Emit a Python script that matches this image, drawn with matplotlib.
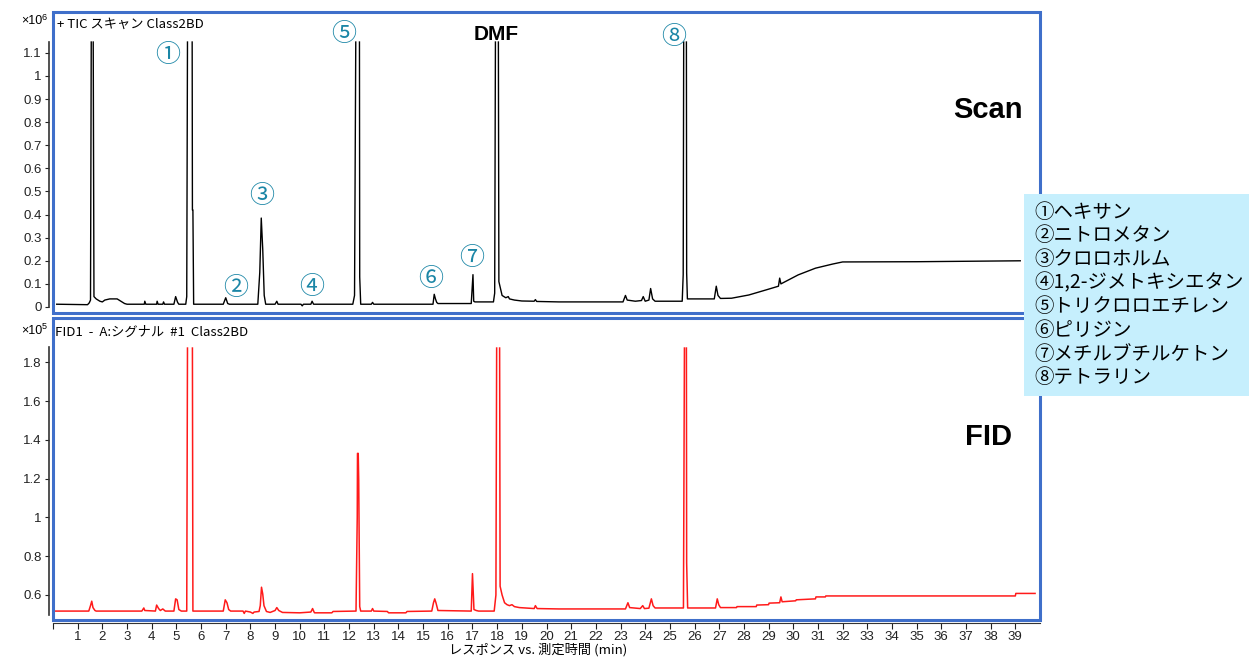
import numpy as np
import matplotlib.pyplot as plt
from matplotlib.patches import Rectangle
from matplotlib.ticker import FuncFormatter

W, H = 1249, 657
BLUE = '#3f6fca'
TEAL = '#1b86a6'
JP = ['Noto Sans CJK JP', 'DejaVu Sans']

# Scan (TIC) trace, x10^6 counts vs time (min); None = off scale (line break)
scan_points = [
    (0.15, 0.012), (1.40, 0.010), (1.47, 0.018), (1.52, 0.030), (1.55, 1.147), (None, None),
    (1.63, 1.147), (1.66, 0.045), (1.75, 0.035), (1.90, 0.025), (2.00, 0.022), (2.10, 0.030),
    (2.30, 0.035), (2.60, 0.035), (2.75, 0.025), (2.90, 0.015), (3.00, 0.012), (3.70, 0.012),
    (3.72, 0.025), (3.76, 0.012), (4.20, 0.012), (4.22, 0.025), (4.26, 0.012), (4.45, 0.012),
    (4.48, 0.022), (4.52, 0.012), (4.90, 0.012), (4.97, 0.045), (5.05, 0.020), (5.10, 0.012),
    (5.38, 0.012), (5.42, 0.045), (5.45, 1.147), (None, None), (5.64, 1.147), (5.65, 0.420),
    (5.67, 0.420), (5.70, 0.012), (6.90, 0.012), (7.00, 0.040), (7.08, 0.015), (7.15, 0.012),
    (8.30, 0.012), (8.38, 0.150), (8.44, 0.385), (8.50, 0.250), (8.56, 0.050), (8.62, 0.012),
    (9.00, 0.012), (9.07, 0.025), (9.12, 0.012), (10.05, 0.012), (10.10, 0.005), (10.15, 0.012),
    (10.45, 0.012), (10.50, 0.025), (10.56, 0.012), (12.15, 0.012), (12.22, 0.050), (12.27, 1.147),
    (None, None), (12.42, 1.147), (12.43, 0.130), (12.47, 0.012), (12.90, 0.012), (12.95, 0.020),
    (13.00, 0.012), (15.40, 0.012), (15.45, 0.055), (15.50, 0.035), (15.55, 0.020), (15.60, 0.015),
    (16.95, 0.015), (17.02, 0.140), (17.05, 0.025), (17.10, 0.022), (17.85, 0.022), (17.90, 0.060),
    (17.93, 1.147), (None, None), (18.05, 1.147), (18.07, 0.110), (18.20, 0.050), (18.35, 0.040),
    (18.45, 0.045), (18.50, 0.035), (18.70, 0.030), (19.00, 0.026), (19.50, 0.025), (19.55, 0.032),
    (19.60, 0.024), (20.50, 0.022), (23.10, 0.022), (23.20, 0.050), (23.27, 0.030), (23.60, 0.025),
    (23.85, 0.028), (23.92, 0.045), (24.00, 0.025), (24.15, 0.030), (24.22, 0.080), (24.30, 0.035),
    (24.40, 0.025), (25.50, 0.025), (25.54, 0.140), (25.56, 1.147), (None, None), (25.67, 1.147),
    (25.68, 0.147), (25.71, 0.035), (26.80, 0.035), (26.88, 0.090), (26.95, 0.050), (27.05, 0.037),
    (27.50, 0.038), (28.20, 0.052), (28.90, 0.074), (29.40, 0.090), (29.45, 0.125), (29.50, 0.100),
    (30.20, 0.139), (30.90, 0.168), (31.60, 0.186), (32.00, 0.195), (35.00, 0.196), (39.20, 0.200),
]

# FID trace, x10^5 vs time (min)
fid_points = [
    (0.10, 0.517), (1.45, 0.517), (1.52, 0.545), (1.57, 0.568), (1.62, 0.535), (1.70, 0.520),
    (1.75, 0.517), (3.60, 0.517), (3.68, 0.533), (3.72, 0.520), (4.15, 0.517), (4.20, 0.548),
    (4.28, 0.530), (4.35, 0.520), (4.45, 0.528), (4.55, 0.517), (4.90, 0.517), (4.97, 0.580),
    (5.03, 0.575), (5.10, 0.525), (5.20, 0.517), (5.42, 0.517), (5.45, 1.873), (None, None),
    (5.65, 1.873), (5.67, 0.517), (6.90, 0.517), (6.98, 0.575), (7.05, 0.560), (7.12, 0.525),
    (7.20, 0.517), (7.70, 0.517), (7.75, 0.505), (7.80, 0.517), (8.00, 0.512), (8.10, 0.505),
    (8.15, 0.512), (8.35, 0.515), (8.40, 0.545), (8.45, 0.640), (8.50, 0.605), (8.55, 0.545),
    (8.65, 0.515), (8.80, 0.510), (9.00, 0.520), (9.07, 0.535), (9.15, 0.520), (9.30, 0.510),
    (10.00, 0.508), (10.45, 0.512), (10.52, 0.530), (10.58, 0.512), (10.60, 0.508), (11.30, 0.508),
    (11.35, 0.515), (12.28, 0.517), (12.33, 1.000), (12.34, 1.330), (12.37, 1.330), (12.39, 1.190),
    (12.43, 0.540), (12.47, 0.517), (12.90, 0.517), (12.95, 0.530), (13.00, 0.517), (13.55, 0.515),
    (13.60, 0.508), (14.30, 0.508), (14.35, 0.515), (15.35, 0.517), (15.42, 0.560), (15.47, 0.580),
    (15.52, 0.560), (15.60, 0.520), (16.95, 0.517), (17.00, 0.710), (17.03, 0.615), (17.06, 0.525),
    (17.15, 0.520), (17.25, 0.517), (17.88, 0.517), (17.95, 0.600), (17.98, 1.873), (None, None),
    (18.10, 1.873), (18.12, 0.645), (18.20, 0.600), (18.30, 0.560), (18.40, 0.550), (18.50, 0.545),
    (18.60, 0.550), (18.70, 0.540), (18.90, 0.535), (19.50, 0.530), (19.55, 0.545), (19.62, 0.530),
    (20.50, 0.528), (23.20, 0.528), (23.30, 0.560), (23.37, 0.535), (23.80, 0.530), (23.90, 0.545),
    (23.97, 0.530), (24.15, 0.532), (24.25, 0.580), (24.32, 0.545), (24.40, 0.533), (25.55, 0.533),
    (25.59, 1.873), (None, None), (25.67, 1.873), (25.68, 0.765), (25.72, 0.533), (26.85, 0.533),
    (26.92, 0.580), (26.98, 0.550), (27.05, 0.535), (27.70, 0.535), (27.72, 0.540), (28.50, 0.540),
    (28.52, 0.548), (29.00, 0.550), (29.02, 0.558), (29.45, 0.560), (29.50, 0.590), (29.55, 0.565),
    (30.10, 0.570), (30.12, 0.575), (30.90, 0.580), (30.92, 0.590), (31.30, 0.590), (31.32, 0.595),
    (39.00, 0.595), (39.02, 0.608), (39.80, 0.608),
]

scan_ticks = [0, 0.1, 0.2, 0.3, 0.4, 0.5, 0.6, 0.7, 0.8, 0.9, 1.0, 1.1]
fid_ticks = [0.6, 0.8, 1.0, 1.2, 1.4, 1.6, 1.8]
time_ticks = list(range(0, 40))

peak_marks = ['①', '②', '③', '④', '⑤', '⑥', '⑦', '⑧']
peak_mark_t = [4.66, 7.41, 8.46, 10.49, 11.78, 15.30, 16.96, 25.14]
peak_mark_y = [1.09, 0.082, 0.48, 0.087, 1.18, 0.121, 0.212, 1.169]

compounds = ['①ヘキサン', '②ニトロメタン', '③クロロホルム', '④1,2-ジメトキシエタン',
             '⑤トリクロロエチレン', '⑥ピリジン', '⑦メチルブチルケトン', '⑧テトラリン']


def fx(x):
    return x / W


def fy(y):
    return 1 - y / H


def unzip(points):
    arr = np.array(points, dtype=float)
    return arr[:, 0], arr[:, 1]


fig = plt.figure(figsize=(W / 100, H / 100), dpi=100)

ax1 = fig.add_axes([fx(53), fy(313), fx(1040) - fx(53), fy(12) - fy(313)])
ax2 = fig.add_axes([fx(53), fy(620), fx(1040) - fx(53), fy(318) - fy(620)])

t, y = unzip(scan_points)
ax1.plot(t, y, color='black', lw=1.0)
t, y = unzip(fid_points)
ax2.plot(t, y, color='#ff1a1a', lw=1.1)

fmt = FuncFormatter(lambda v, p: '%g' % round(v, 2))
for ax, ticks, ylim, bounds in [(ax1, scan_ticks, (-0.026, 1.277), (0, 1.147)),
                                (ax2, fid_ticks, (0.471, 2.028), (0.497, 1.878))]:
    ax.set_xlim(0, 40)
    ax.set_ylim(*ylim)
    for s in ['top', 'right', 'bottom']:
        ax.spines[s].set_visible(False)
    ax.spines['left'].set_position(('outward', 3))
    ax.spines['left'].set_bounds(*bounds)
    ax.spines['left'].set_color('#333333')
    ax.spines['left'].set_linewidth(1.2)
    ax.set_yticks(ticks)
    ax.yaxis.set_major_formatter(fmt)
    ax.tick_params(axis='y', length=3, width=0.8, pad=2, labelsize=9.5, colors='#222222')
    for lab in ax.get_yticklabels():
        lab.set_family('Liberation Sans')
    ax.add_patch(Rectangle((0, 0), 1, 1, transform=ax.transAxes, fill=False,
                           edgecolor=BLUE, lw=2.2, clip_on=False, zorder=5))

ax1.tick_params(axis='x', bottom=False, labelbottom=False)
ax2.spines['bottom'].set_visible(True)
ax2.spines['bottom'].set_position(('outward', 2))
ax2.spines['bottom'].set_color('#333333')
ax2.set_xticks(time_ticks)
ax2.set_xticklabels([''] + [str(v) for v in time_ticks[1:]])
ax2.tick_params(axis='x', length=4, width=0.8, pad=2, labelsize=9.5, colors='#222222')
for lab in ax2.get_xticklabels():
    lab.set_family('Liberation Sans')

# panel headers
fig.text(fx(21), fy(21), '×10', fontsize=9, family='Liberation Sans', va='center')
fig.text(fx(42), fy(17), '6', fontsize=6.5, family='Liberation Sans', va='center')
fig.text(fx(21), fy(331), '×10', fontsize=9, family='Liberation Sans', va='center')
fig.text(fx(42), fy(327), '5', fontsize=6.5, family='Liberation Sans', va='center')
fig.text(fx(57), fy(24), '+ TIC スキャン Class2BD', fontsize=9.5, family=JP, va='center')
fig.text(fx(55), fy(332), 'FID1  -  A:シグナル  #1  Class2BD', fontsize=9.5, family=JP,
         va='center')

# peak labels
for m, pt, py in zip(peak_marks, peak_mark_t, peak_mark_y):
    ax1.text(pt, py, m, color=TEAL, fontsize=18, family=JP, ha='center', va='center')
ax1.text(17.98, 1.18, 'DMF', fontsize=15, fontweight='bold', family='Liberation Sans',
         ha='center', va='center')
ax1.text(37.9, 0.853, 'Scan', fontsize=21, fontweight='bold', family='Liberation Sans',
         ha='center', va='center')
ax2.text(37.9, 1.414, 'FID', fontsize=21, fontweight='bold', family='Liberation Sans',
         ha='center', va='center')

# compound list box
fig.patches.append(Rectangle((fx(1024), fy(396)), fx(1249) - fx(1024), fy(194) - fy(396),
                             transform=fig.transFigure, facecolor='#c6effd', edgecolor='none',
                             zorder=6))
for i, name in enumerate(compounds):
    fig.text(fx(1034), fy(212 + i * 23.7), name, fontsize=14, family=JP, va='center', zorder=7)

fig.text(fx(538), fy(650), 'レスポンス vs. 測定時間 (min)', fontsize=9.5, family=JP,
         ha='center', va='center')

fig.savefig('out.png', dpi=100)
